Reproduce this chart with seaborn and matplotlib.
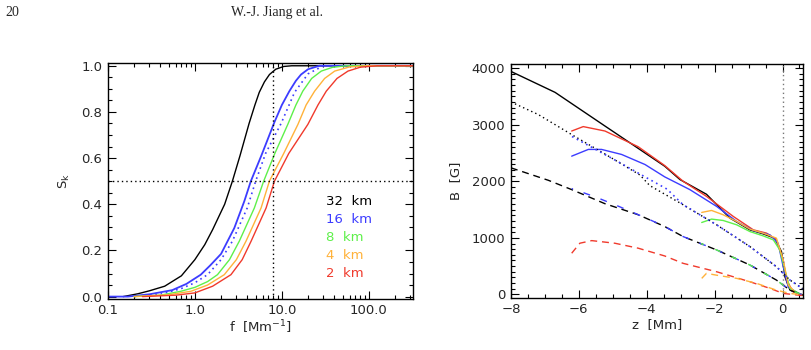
import numpy as np
import pandas as pd
import matplotlib as mpl
import matplotlib.pyplot as plt
import matplotlib.ticker as mticker
import seaborn as sns

sns.set_style("ticks")
mpl.rcParams['font.family'] = ['DejaVu Sans']
mpl.rcParams['axes.unicode_minus'] = True

# ---- left panel: S_k vs f for several resolutions ----
f_32 = [0.15, 0.22, 0.3, 0.45, 0.7, 1.0, 1.3, 1.6, 2.2, 2.7, 3.3, 4.2, 4.9, 5.5, 6.3, 7.2, 8.5, 10.5, 13, 320]
s_32 = [0.0, 0.012, 0.025, 0.045, 0.09, 0.16, 0.225, 0.29, 0.4, 0.5, 0.61, 0.75, 0.83, 0.885, 0.93, 0.962, 0.985, 0.997, 1.0, 1.0]
f_16 = [0.1, 0.17, 0.3, 0.55, 0.8, 1.17, 1.5, 2.0, 2.84, 3.7, 4.4, 5.8, 8.2, 10, 12.2, 14.5, 16.6, 20, 27, 320]
s_16 = [0.0, 0.0, 0.01, 0.028, 0.055, 0.095, 0.135, 0.185, 0.297, 0.413, 0.5, 0.61, 0.755, 0.83, 0.89, 0.935, 0.962, 0.985, 1.0, 1.0]
f_16dot = [0.2, 0.4, 0.7, 1.0, 1.4, 2.0, 2.7, 4.0, 5.0, 6.5, 9.8, 14, 20, 30]
s_16dot = [0.0, 0.01, 0.035, 0.06, 0.095, 0.16, 0.24, 0.384, 0.5, 0.62, 0.75, 0.885, 0.965, 1.0]
f_8 = [0.2, 0.4, 0.69, 1.0, 1.4, 1.82, 2.5, 3.24, 4.83, 6.18, 8.3, 11.7, 14.5, 17.4, 22, 28.4, 38, 55, 320]
s_8 = [0.0, 0.006, 0.023, 0.04, 0.065, 0.095, 0.16, 0.24, 0.384, 0.5, 0.62, 0.746, 0.83, 0.89, 0.945, 0.977, 0.993, 1.0, 1.0]
f_4 = [0.2, 0.5, 0.9, 1.4, 2.18, 3.0, 3.87, 5.77, 7.19, 10.5, 15.3, 19, 23.8, 31, 40.5, 60, 95, 320]
s_4 = [0.0, 0.008, 0.023, 0.05, 0.095, 0.16, 0.24, 0.384, 0.5, 0.62, 0.746, 0.83, 0.89, 0.945, 0.977, 0.995, 1.0, 1.0]
f_2 = [0.25, 0.6, 1.0, 1.6, 2.6, 3.5, 4.43, 6.59, 8.22, 12, 19.9, 26, 32.4, 43, 57.6, 80, 125, 320]
s_2 = [0.0, 0.006, 0.016, 0.045, 0.095, 0.16, 0.24, 0.384, 0.5, 0.62, 0.746, 0.83, 0.89, 0.945, 0.977, 0.994, 1.0, 1.0]
legend_labels = ["32 km", "16 km", "8 km", "4 km", "2 km"]

# ---- right panel: B vs z ----
z_blk = [-8.0, -6.7, -5.23, -4.25, -3.47, -3.02, -2.24, -1.55, -0.96, -0.57, -0.23, -0.03, 0.07, 0.22, 0.6]
b_blk = [3940, 3570, 2975, 2580, 2265, 2029, 1770, 1349, 1141, 1070, 994, 756, 313, 76, -12]
z_red = [-6.21, -5.87, -5.23, -4.25, -3.47, -2.93, -2.24, -1.45, -0.86, -0.47, -0.18, 0.02, 0.12, 0.31, 0.6]
b_red = [2887, 2965, 2887, 2609, 2277, 2000, 1733, 1378, 1141, 1083, 964, 609, 254, 46, -10]
z_blu = [-6.21, -5.72, -5.33, -4.74, -4.05, -3.47, -2.73, -1.94, -1.35, -0.86, -0.37, -0.13, 0.02, 0.17, 0.5]
b_blu = [2443, 2562, 2562, 2473, 2295, 2077, 1852, 1555, 1289, 1129, 1053, 905, 490, 135, 0]
z_org = [-2.38, -2.09, -1.75, -1.35, -0.96, -0.57, -0.18, 0.02, 0.17, 0.41, 0.6]
b_org = [1449, 1484, 1408, 1289, 1154, 1083, 994, 609, 165, 18, -10]
z_grn = [-2.38, -2.09, -1.75, -1.35, -0.96, -0.57, -0.27, -0.08, 0.07, 0.22, 0.55]
b_grn = [1271, 1331, 1307, 1230, 1111, 1035, 964, 786, 431, 107, 0]

z_blk_dot = [-8.0, -7.2, -6.2, -5.2, -4.2, -3.91, -2.93, -1.94, -0.96, -0.18, 0.22, 0.6]
b_blk_dot = [3400, 3180, 2820, 2470, 2110, 1923, 1585, 1230, 845, 490, 254, 100]
z_blu_dot = [-6.2, -5.5, -4.8, -4.0, -3.4, -2.93, -1.94, -0.96, -0.18, 0.22, 0.6]
b_blu_dot = [2790, 2560, 2330, 2060, 1860, 1585, 1230, 845, 490, 254, 100]

z_blk_dash = [-8.0, -6.9, -6.21, -5.23, -4.25, -3.47, -2.93, -1.94, -0.96, -0.18, 0.22, 0.6]
b_blk_dash = [2237, 2017, 1852, 1603, 1408, 1200, 1023, 786, 520, 254, 76, -10]
z_blu_dash = [-6.21, -5.5, -4.8, -4.0, -3.47, -2.93, -1.94, -0.96, -0.18, 0.22, 0.6]
b_blu_dash = [1870, 1720, 1550, 1345, 1200, 1023, 786, 520, 254, 76, -10]
z_grn_dash = [-2.4, -1.94, -0.96, -0.18, 0.22, 0.6]
b_grn_dash = [900, 786, 520, 254, 76, -10]
z_red_dash = [-6.21, -5.97, -5.62, -4.94, -4.25, -3.47, -2.93, -1.94, -0.96, -0.37, 0.02, 0.6]
b_red_dash = [728, 905, 951, 905, 817, 680, 550, 401, 224, 107, 18, -20]
z_org_dash = [-2.38, -2.24, -1.94, -1.35, -0.76, -0.18, 0.22, 0.6]
b_org_dash = [284, 373, 340, 284, 195, 76, 18, -10]

BLUE = "#3c3cff"
GREEN = "#5ef04a"
ORANGE = "#ffb23a"
RED = "#f03a2c"

fig = plt.figure(figsize=(8.11, 3.5), dpi=100)
ax1 = fig.add_axes([0.133, 0.146, 0.376, 0.674])
ax2 = fig.add_axes([0.630, 0.149, 0.360, 0.668])

def line(ax, x, y, color, ls="-", lw=1.0):
    sns.lineplot(x=x, y=y, ax=ax, color=color, linestyle=ls, linewidth=lw,
                 sort=False, estimator=None)

dot = (0, (1, 2.2))
dash = (0, (5, 3.5))

# left
line(ax1, f_32, s_32, "black")
line(ax1, f_16, s_16, BLUE, lw=1.3)
line(ax1, f_16dot, s_16dot, BLUE, ls=dot, lw=1.2)
line(ax1, f_8, s_8, GREEN)
line(ax1, f_4, s_4, ORANGE)
line(ax1, f_2, s_2, RED)
ax1.axhline(0.5, color="black", linestyle=dot, linewidth=1.0)
ax1.axvline(8.0, color="black", linestyle=dot, linewidth=1.0)
ax1.set_xscale("log")
ax1.set_xlim(0.1, 320)
ax1.set_ylim(-0.01, 1.012)
ax1.xaxis.set_major_locator(mticker.FixedLocator([0.1, 1, 10, 100]))
ax1.xaxis.set_major_formatter(mticker.FixedFormatter(["0.1", "1.0", "10.0", "100.0"]))
ax1.xaxis.set_minor_locator(mticker.LogLocator(subs=np.arange(2, 10)))
ax1.xaxis.set_minor_formatter(mticker.NullFormatter())
ax1.yaxis.set_major_locator(mticker.MultipleLocator(0.2))
ax1.yaxis.set_major_formatter(mticker.FormatStrFormatter("%.1f"))
ax1.yaxis.set_minor_locator(mticker.MultipleLocator(0.05))
ax1.set_xlabel(r"f  [Mm$^{-1}$]", fontsize=9.5, labelpad=1)
ax1.set_ylabel(r"S$_\mathrm{k}$", fontsize=9.5, labelpad=7)
for i, (lab, c) in enumerate(zip(legend_labels, ["black", BLUE, GREEN, ORANGE, RED])):
    ax1.text(0.715, 0.412 - i * 0.076, lab.replace(" ", "  "), color=c, fontsize=9.5,
             transform=ax1.transAxes, va="center", ha="left")

# right
line(ax2, z_blk, b_blk, "black")
line(ax2, z_red, b_red, RED)
line(ax2, z_blu, b_blu, BLUE)
line(ax2, z_grn, b_grn, GREEN)
line(ax2, z_org, b_org, ORANGE)
line(ax2, z_blk_dot, b_blk_dot, "black", ls=dot)
line(ax2, z_blu_dot, b_blu_dot, BLUE, ls=dot, lw=1.2)
line(ax2, z_blk_dash, b_blk_dash, "black", ls=dash)
line(ax2, z_blu_dash, b_blu_dash, BLUE, ls=(4, (5, 8)))
line(ax2, z_grn_dash, b_grn_dash, GREEN, ls=(2, (4, 9)))
line(ax2, z_red_dash, b_red_dash, RED, ls=dash)
line(ax2, z_org_dash, b_org_dash, ORANGE, ls=dash)
ax2.axvline(0.0, color="#777777", linestyle=dot, linewidth=1.0)
ax2.set_xlim(-8, 0.6)
ax2.set_ylim(-60, 4070)
ax2.xaxis.set_major_locator(mticker.MultipleLocator(2))
ax2.xaxis.set_minor_locator(mticker.MultipleLocator(0.5))
ax2.yaxis.set_major_locator(mticker.MultipleLocator(1000))
ax2.yaxis.set_minor_locator(mticker.MultipleLocator(100))
ax2.set_xlabel("z  [Mm]", fontsize=9.5, labelpad=1)
ax2.set_ylabel("B  [G]", fontsize=9.5, labelpad=7)

for ax in (ax1, ax2):
    ax.tick_params(which="both", direction="in", top=True, right=True, labelsize=9.5,
                   width=0.8, color="black")
    ax.tick_params(which="major", length=6, pad=4)
    ax.tick_params(which="minor", length=3)
    for sp in ax.spines.values():
        sp.set_linewidth(1.0)
        sp.set_color("black")

fig.text(0.007, 0.964, "20", family="Liberation Serif", fontsize=10, va="center")
fig.text(0.341, 0.964, "W.-J. Jiang et al.", family="Liberation Serif", fontsize=10,
         va="center", ha="center")

plt.savefig("out.png", dpi=100)
